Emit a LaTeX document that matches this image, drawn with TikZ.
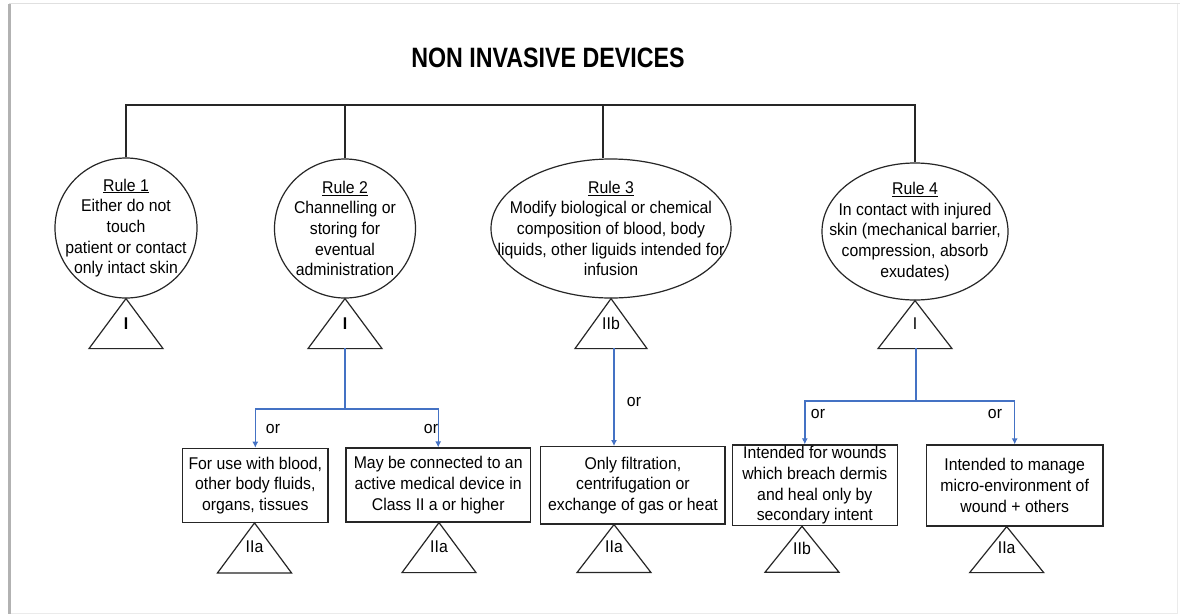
\documentclass[tikz,border=0pt]{standalone}
\usepackage{fontspec}
\setmainfont[FakeStretch=0.93]{Liberation Sans}
\newfontfamily\headfont[FakeStretch=0.83]{Liberation Sans}
\usetikzlibrary{shapes.geometric,arrows.meta}
\definecolor{orblue}{RGB}{68,114,196}

\begin{document}
\begin{tikzpicture}[x=1pt, y=-1pt, line width=1.2pt, draw=black!85,
  every node/.style={font=\fontsize{17}{20.7}\selectfont, align=center, inner sep=0pt},
  rulecirc/.style={ellipse, draw},
  classbox/.style={rectangle, draw},
  tri/.style={draw, line join=miter},
  orline/.style={draw=orblue, line width=1.4pt, -{Latex[length=6pt,width=6pt]}}]

  % page
  \useasboundingbox (0,0) rectangle (1180,614);
  \fill[white] (0,0) rectangle (1180,614);
  \draw[black!12, line width=1pt] (9,3.5) -- (1180,3.5);
  \draw[black!8, line width=1pt] (1177.5,4) -- (1177.5,614);
  \draw[black!8, line width=1pt] (9,613) -- (1178,613);
  \draw[black!30, line width=3pt] (9,4) -- (9,614);

  \node (title) at (548,58) {\headfont\fontsize{28}{30}\selectfont\bfseries NON INVASIVE DEVICES};

  % rules
  \node[rulecirc, minimum width=142pt, minimum height=140pt] (rule1) at (126,228) {};
  \node[rulecirc, minimum width=141pt, minimum height=139pt] (rule2) at (345,228.5) {};
  \node[rulecirc, minimum width=240pt, minimum height=139pt] (rule3) at (611,228.5) {};
  \node[rulecirc, minimum width=186pt, minimum height=137pt] (rule4) at (915,231.5) {};
  \node (txt1) at (rule1) {\underline{Rule 1}\\Either do not\\touch\\patient or contact\\only intact skin};
  \node (txt2) at (rule2) {\underline{Rule 2}\\Channelling or\\storing for\\eventual\\administration};
  \node (txt3) at (rule3) {\underline{Rule 3}\\Modify biological or chemical\\composition of blood, body\\liquids, other liguids intended for\\infusion};
  \node (txt4) at (rule4) {\underline{Rule 4}\\In contact with injured\\skin (mechanical barrier,\\compression, absorb\\exudates)};

  \draw (rule1.north) |- (rule4.north |- 0,105) -- (rule4.north);
  \draw (rule2.north) -- (rule2.north |- 0,105);
  \draw (603,105) -- (rule3.north -| 603,0);

  % classes under rules
  \draw[tri] (rule1.south) -- ++(37,50) -- ++(-74,0) -- cycle;
  \draw[tri] (rule2.south) -- ++(37,50) -- ++(-74,0) -- cycle;
  \draw[tri] (rule3.south) -- ++(36,50) -- ++(-72,0) -- cycle;
  \draw[tri] (rule4.south) -- ++(37,48) -- ++(-74,0) -- cycle;
  \node (cls1) at (126,324) {\textbf{I}};
  \node (cls2) at (345,324) {\textbf{I}};
  \node (cls3) at (611,323) {IIb};
  \node (cls4) at (915,324) {I};

  % boxes
  \node[classbox, minimum width=145.5pt, minimum height=74pt] (box1) at (255.3,485.3)
    {For use with blood,\\other body fluids,\\organs, tissues};
  \node[classbox, minimum width=184.4pt, minimum height=74pt] (box2) at (438.2,485)
    {May be connected to an\\active medical device in\\Class II a or higher};
  \node[classbox, minimum width=184.2pt, minimum height=77.3pt] (box3) at (632.9,485.3)
    {Only filtration,\\centrifugation or\\exchange of gas or heat};
  \node[classbox, minimum width=165pt, minimum height=80.7pt] (box4) at (814.8,485.3)
    {Intended for wounds\\which breach dermis\\and heal only by\\secondary intent};
  \node[classbox, minimum width=176.7pt, minimum height=81pt] (box5) at (1014.7,485.5)
    {Intended to manage\\micro-environment of\\wound + others};

  % or-branches
  \coordinate (base2) at (345,348);
  \coordinate (fork2) at (345,409);
  \coordinate (base3) at (614,348);
  \coordinate (base4) at (916,348);
  \coordinate (fork4) at (916,401);
  \draw[orline] (base2) -- (fork2) -| (box1.north);
  \draw[orline] (fork2) -| (box2.north);
  \draw[orline] (base3) -- (base3 |- box3.north);
  \draw[orline] (base4) -- (fork4) -| ([xshift=-10pt]box4.north);
  \draw[orline] (fork4) -| (box5.north);
  \node (or1) at (273,429) {or};
  \node (or2) at (431,429) {or};
  \node (or3) at (634,402) {or};
  \node (or4) at (818,414) {or};
  \node (or5) at (995,414) {or};

  % classes under boxes
  \draw[tri] (box1.south -| 254.5,0) -- ++(37,50) -- ++(-74,0) -- cycle;
  \draw[tri] (box2.south -| 439,0) -- ++(37,50) -- ++(-74,0) -- cycle;
  \draw[tri] (box3.south -| 614,0) -- ++(37,48) -- ++(-74,0) -- cycle;
  \draw[tri] (box4.south -| 802,0) -- ++(37,46) -- ++(-74,0) -- cycle;
  \draw[tri] (box5.south -| 1006.7,0) -- ++(37,46) -- ++(-74,0) -- cycle;
  \node (cls5) at (254.5,547) {IIa};
  \node (cls6) at (439,547) {IIa};
  \node (cls7) at (614,547) {IIa};
  \node (cls8) at (802,548) {IIb};
  \node (cls9) at (1006.7,548) {IIa};
\end{tikzpicture}
\end{document}
